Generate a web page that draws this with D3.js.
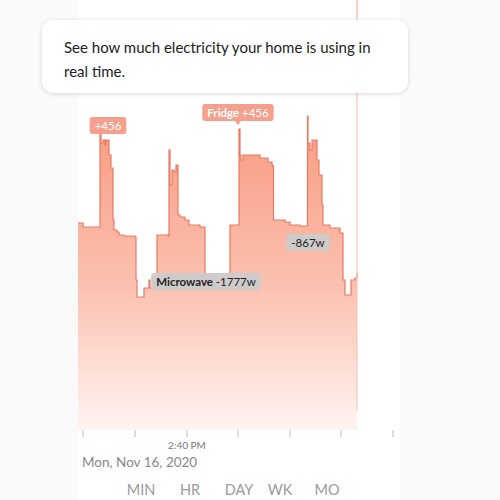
<!DOCTYPE html>
<html><head><meta charset="utf-8">
<script src="https://cdn.jsdelivr.net/npm/d3@7"></script>
<style>body{margin:0;background:#fafafa;font-family:Lato,"Noto Sans",sans-serif}</style>
</head><body><div id="chart"></div>
<script>
// minutes from start of window
const times = [0,5,22,23,25,27,28,30,31,33,35,36,39,41,46,57,58,59,65,66,71,72,73,79,80,90,91,92,94,96,98,99,100,102,107,111,122,127,140,150,152,160,161,162,163,165,172,182,190,194,195,195.5,207,212,222,229,229.5,230,232,234,238,239,241,244,245,247,252,262,264,265,267,272,273,277,279];
const watts = [1870,1830,2870,2670,2700,2650,2700,2700,2550,2420,1900,1800,1780,1750,1740,1730,1300,1130,1130,1220,1300,1220,1220,1750,1750,1740,2600,2250,2400,2380,2450,2450,1950,1930,1900,1850,1830,1350,1330,1320,1850,1850,2810,2550,2500,2550,2550,2520,2480,2450,2440,1900,1880,1850,1840,1840,2940,2670,2600,2700,2700,2500,2350,2050,1850,1850,1820,1770,1770,1300,1150,1150,1300,1320,1370];
const tickMinutes = [5,57,109,160,212,263,315];
const ranges = ["MIN","HR","DAY","WK","MO"];
const markers = [
  {t:30, w:2870, label:"+456", kind:"up", off:-6, tip:false},
  {t:160, w:2810, label:"+456", pre:"Fridge ", kind:"up", off:-25, tip:true},
  {t:128, w:1330, label:"-1777w", pre:"Microwave ", kind:"down", off:-4},
  {t:230, w:1840, label:"-867w", kind:"down", off:8}
];

const W = 500, H = 500;
const svg = d3.select("#chart").append("svg").attr("width", W).attr("height", H);

svg.append("rect").attr("x", 78).attr("y", 0).attr("width", 322).attr("height", H).attr("fill", "#fff");

const x = d3.scaleLinear().domain([0, 279]).range([78, 357]);
const y = d3.scaleLinear().domain([0, 3100]).range([410, 100]);

const defs = svg.append("defs");
const grad = defs.append("linearGradient").attr("id", "fillGrad").attr("x1", 0).attr("x2", 0).attr("y1", 0).attr("y2", 1);
grad.append("stop").attr("offset", "0%").attr("stop-color", "#f99a80");
grad.append("stop").attr("offset", "55%").attr("stop-color", "#fbc2b1");
grad.append("stop").attr("offset", "100%").attr("stop-color", "#fff4f1");
const sh = defs.append("filter").attr("id", "shadow").attr("x", "-10%").attr("y", "-20%").attr("width", "120%").attr("height", "160%");
sh.append("feDropShadow").attr("dx", 0).attr("dy", 1).attr("stdDeviation", 2).attr("flood-color", "#000").attr("flood-opacity", 0.15);

const data = times.map((t, i) => ({t, w: watts[i]}));
const area = d3.area().curve(d3.curveStepAfter).x(d => x(d.t)).y0(430).y1(d => y(d.w));
const line = d3.line().curve(d3.curveStepAfter).x(d => x(d.t)).y(d => y(d.w));
svg.append("path").datum(data).attr("d", area).attr("fill", "url(#fillGrad)");
svg.append("path").datum(data).attr("d", line).attr("fill", "none").attr("stroke", "#e87a62").attr("stroke-width", 1.2);

// cursor line
svg.append("line").attr("x1", 357).attr("x2", 357).attr("y1", 0).attr("y2", 410).attr("stroke", "#f6c6ba").attr("stroke-width", 1.2);

// ticks
svg.append("g").selectAll("line").data(tickMinutes).join("line")
  .attr("x1", d => x(d)).attr("x2", d => x(d)).attr("y1", 430).attr("y2", 437)
  .attr("stroke", "#bbb");
svg.append("text").attr("x", x(109)).attr("y", 449).attr("text-anchor", "middle")
  .attr("font-size", 10).attr("fill", "#777").text("2:40 PM");
svg.append("text").attr("x", 82).attr("y", 467).attr("font-size", 13.5).attr("fill", "#888").text("Mon, Nov 16, 2020");
const rx = [141, 190, 239, 280, 327];
svg.append("g").selectAll("text").data(ranges).join("text")
  .attr("x", (d, i) => rx[i]).attr("y", 495).attr("text-anchor", "middle")
  .attr("font-size", 14.5).attr("fill", "#9a9a9a").text(d => d);

// markers
markers.forEach(m => {
  const g = svg.append("g");
  const txt = g.append("text").attr("font-size", 11.5);
  if (m.pre) txt.append("tspan").attr("font-weight", "bold").text(m.pre);
  txt.append("tspan").text(m.label);
  const bw = txt.node().getComputedTextLength() + 10;
  const up = m.kind === "up";
  const cx = x(m.t);
  const top = y(m.w) + m.off;
  g.insert("rect", "text").attr("x", cx - bw / 2).attr("y", top).attr("width", bw).attr("height", 17).attr("rx", 3)
    .attr("fill", up ? "#f4a08c" : "#cfcbca");
  if (m.tip) g.insert("path", "text").attr("d", `M${cx - 3},${top + 17}L${cx},${top + 21}L${cx + 3},${top + 17}Z`).attr("fill", "#f4a08c");
  txt.attr("x", cx).attr("y", top + 12.5).attr("text-anchor", "middle").attr("fill", up ? "#fff" : "#222");
});

// callout
svg.append("rect").attr("x", 42).attr("y", 20).attr("width", 366).attr("height", 73).attr("rx", 12)
  .attr("fill", "#fff").attr("filter", "url(#shadow)");
svg.append("line").attr("x1", 357).attr("x2", 357).attr("y1", 0).attr("y2", 19).attr("stroke", "#f6c6ba");
const lines = ["See how much electricity your home is using in", "real time."];
svg.append("g").selectAll("text").data(lines).join("text")
  .attr("x", 64).attr("y", (d, i) => 53 + i * 24).attr("font-size", 15).attr("fill", "#222").text(d => d);
</script></body></html>
